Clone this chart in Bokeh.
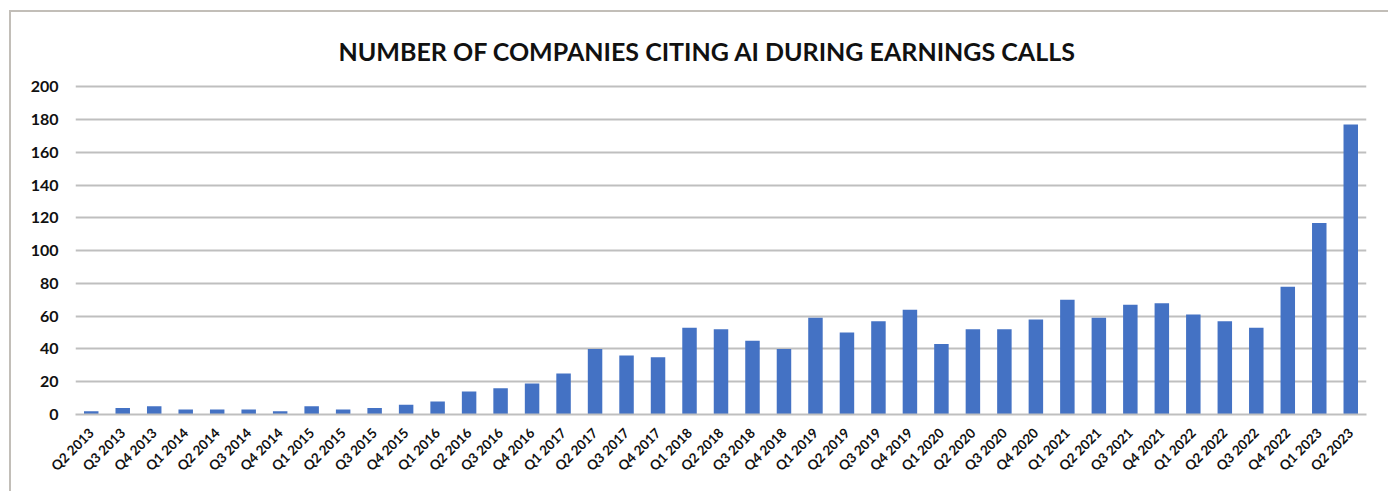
from bokeh.plotting import figure
from bokeh.models import ColumnDataSource, FactorRange
from bokeh.embed import file_html
from bokeh.resources import INLINE
import math

quarters = ["Q2 2013", "Q3 2013", "Q4 2013", "Q1 2014", "Q2 2014", "Q3 2014", "Q4 2014",
            "Q1 2015", "Q2 2015", "Q3 2015", "Q4 2015", "Q1 2016", "Q2 2016", "Q3 2016",
            "Q4 2016", "Q1 2017", "Q2 2017", "Q3 2017", "Q4 2017", "Q1 2018", "Q2 2018",
            "Q3 2018", "Q4 2018", "Q1 2019", "Q2 2019", "Q3 2019", "Q4 2019", "Q1 2020",
            "Q2 2020", "Q3 2020", "Q4 2020", "Q1 2021", "Q2 2021", "Q3 2021", "Q4 2021",
            "Q1 2022", "Q2 2022", "Q3 2022", "Q4 2022", "Q1 2023", "Q2 2023"]
companies = [2, 4, 5, 3, 3, 3, 2, 5, 3, 4, 6, 8, 14, 16, 19, 25, 40, 36, 35, 53, 52,
             45, 40, 59, 50, 57, 64, 43, 52, 52, 58, 70, 59, 67, 68, 61, 57, 53, 78, 117, 177]
y_ticks = [0, 20, 40, 60, 80, 100, 120, 140, 160, 180, 200]

title_text = "NUMBER OF COMPANIES CITING AI DURING EARNINGS CALLS"

src = ColumnDataSource(dict(q=quarters, v=companies))

p = figure(x_range=FactorRange(*quarters), y_range=(0, 201.5),
           width=1379, height=481, output_backend="svg", toolbar_location=None,
           title=title_text)
p.margin = (10, 0, 0, 9)
p.styles = {"border-left": "2px solid #c2beb8", "border-top": "2px solid #c2beb8"}
p.min_border_left = 64
p.min_border_right = 24
p.min_border_top = 72
p.min_border_bottom = 79

p.vbar(x="q", top="v", width=0.46, source=src, fill_color="#4472C4", line_color=None)

p.title.align = "left"
p.title.text_font = "Lato"
p.title.text_font_size = "25px"
p.title.text_font_style = "bold"
p.title.text_color = "#111111"
p.title.offset = 263
p.title.standoff = 38

p.outline_line_color = None
p.xgrid.grid_line_color = None
p.ygrid.grid_line_color = "#bfbfbf"
p.ygrid.grid_line_width = 2
p.yaxis.ticker = y_ticks
p.yaxis.axis_line_color = None
p.yaxis.major_tick_line_color = None
p.yaxis.minor_tick_line_color = None
p.yaxis.major_label_text_font = "Lato"
p.yaxis.major_label_text_font_size = "16px"
p.yaxis.major_label_text_font_style = "bold"
p.yaxis.major_label_text_color = "#111111"
p.yaxis.major_label_standoff = 11

p.xaxis.axis_line_color = "#bfbfbf"
p.xaxis.axis_line_width = 2
p.xaxis.major_tick_line_color = None
p.xaxis.minor_tick_line_color = None
p.xaxis.major_label_orientation = math.pi / 4
p.xaxis.major_label_text_font = "Lato"
p.xaxis.major_label_text_font_size = "13.5px"
p.xaxis.major_label_text_font_style = "bold"
p.xaxis.major_label_text_color = "#111111"
p.xaxis.major_label_standoff = 10
p.x_range.range_padding = 0

open("out.html", "w").write(file_html(p, INLINE))
